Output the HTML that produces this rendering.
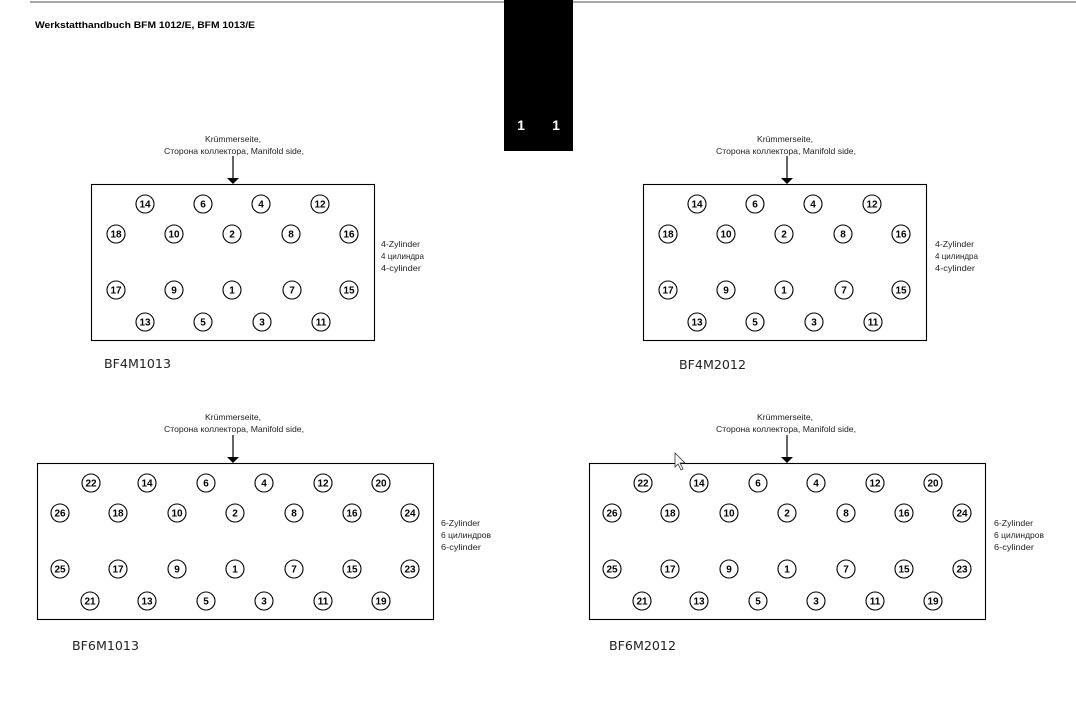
<!DOCTYPE html>
<html><head><meta charset="utf-8"><style>
html,body{margin:0;padding:0;background:#fff;width:1076px;height:711px;overflow:hidden}
svg{display:block}
.c circle{fill:#fff;stroke:#000;stroke-width:1.1}
.c text{font-family:"Liberation Sans Narrow","Liberation Sans",sans-serif;font-weight:bold;font-size:10px;text-anchor:middle}
.s{font-family:"Liberation Sans Narrow","Liberation Sans",sans-serif;font-size:8.5px;fill:#222}
.m{font-family:"DejaVu Sans","Liberation Sans",sans-serif;font-size:12.5px;fill:#222}
</style></head><body>
<svg width="1076" height="711" viewBox="0 0 1076 711" xmlns="http://www.w3.org/2000/svg">
<defs>
<g id="arr"><line x1="0" y1="-28" x2="0" y2="-5" stroke="#000" stroke-width="1.2"/><polygon points="-6,-6 6,-6 0,0" fill="#000"/></g>
</defs>
<line x1="30" y1="2" x2="1076" y2="2" stroke="#888" stroke-width="1.5"/>
<text x="35" y="28" font-family="Liberation Sans Narrow,Liberation Sans,sans-serif" font-weight="bold" font-size="9.5" textLength="220" lengthAdjust="spacingAndGlyphs">Werkstatthandbuch BFM 1012/E, BFM 1013/E</text>
<rect x="504" y="0" width="69" height="151" fill="#000"/>
<text x="521" y="130" fill="#fff" font-family="Liberation Sans,sans-serif" font-weight="bold" font-size="14" text-anchor="middle">1</text>
<text x="556" y="130" fill="#fff" font-family="Liberation Sans,sans-serif" font-weight="bold" font-size="14" text-anchor="middle">1</text>

<!-- Diagram 1 -->
<text class="s" x="233" y="142" text-anchor="middle" textLength="56" lengthAdjust="spacingAndGlyphs">Krümmerseite,</text>
<text class="s" x="234" y="154" text-anchor="middle" textLength="140" lengthAdjust="spacingAndGlyphs">Сторона коллектора, Manifold side,</text>
<use href="#arr" x="233" y="184"/>
<rect x="91.5" y="184.5" width="283" height="156" fill="none" stroke="#000" stroke-width="1.1"/>
<g class="c">
<g transform="translate(145,204)"><circle r="9"/><text y="3.5">14</text></g>
<g transform="translate(203,204)"><circle r="9"/><text y="3.5">6</text></g>
<g transform="translate(261,204)"><circle r="9"/><text y="3.5">4</text></g>
<g transform="translate(320,204)"><circle r="9"/><text y="3.5">12</text></g>
<g transform="translate(116,234)"><circle r="9"/><text y="3.5">18</text></g>
<g transform="translate(174,234)"><circle r="9"/><text y="3.5">10</text></g>
<g transform="translate(232,234)"><circle r="9"/><text y="3.5">2</text></g>
<g transform="translate(291,234)"><circle r="9"/><text y="3.5">8</text></g>
<g transform="translate(349,234)"><circle r="9"/><text y="3.5">16</text></g>
<g transform="translate(116,290)"><circle r="9"/><text y="3.5">17</text></g>
<g transform="translate(174,290)"><circle r="9"/><text y="3.5">9</text></g>
<g transform="translate(232,290)"><circle r="9"/><text y="3.5">1</text></g>
<g transform="translate(292,290)"><circle r="9"/><text y="3.5">7</text></g>
<g transform="translate(349,290)"><circle r="9"/><text y="3.5">15</text></g>
<g transform="translate(145,322)"><circle r="9"/><text y="3.5">13</text></g>
<g transform="translate(203,322)"><circle r="9"/><text y="3.5">5</text></g>
<g transform="translate(262,322)"><circle r="9"/><text y="3.5">3</text></g>
<g transform="translate(321,322)"><circle r="9"/><text y="3.5">11</text></g>
</g>
<text class="s" x="381" y="247" textLength="39" lengthAdjust="spacingAndGlyphs">4-Zylinder</text>
<text class="s" x="381" y="259" textLength="43" lengthAdjust="spacingAndGlyphs">4 цилиндра</text>
<text class="s" x="381" y="271" textLength="40" lengthAdjust="spacingAndGlyphs">4-cylinder</text>
<text class="m" x="104" y="368" textLength="67" lengthAdjust="spacingAndGlyphs">BF4M1013</text>

<!-- Diagram 2 -->
<g transform="translate(552,0)">
<text class="s" x="233" y="142" text-anchor="middle" textLength="56" lengthAdjust="spacingAndGlyphs">Krümmerseite,</text>
<text class="s" x="234" y="154" text-anchor="middle" textLength="140" lengthAdjust="spacingAndGlyphs">Сторона коллектора, Manifold side,</text>
<use href="#arr" x="235" y="184"/>
<rect x="91.5" y="184.5" width="283" height="156" fill="none" stroke="#000" stroke-width="1.1"/>
<g class="c">
<g transform="translate(145,204)"><circle r="9"/><text y="3.5">14</text></g>
<g transform="translate(203,204)"><circle r="9"/><text y="3.5">6</text></g>
<g transform="translate(261,204)"><circle r="9"/><text y="3.5">4</text></g>
<g transform="translate(320,204)"><circle r="9"/><text y="3.5">12</text></g>
<g transform="translate(116,234)"><circle r="9"/><text y="3.5">18</text></g>
<g transform="translate(174,234)"><circle r="9"/><text y="3.5">10</text></g>
<g transform="translate(232,234)"><circle r="9"/><text y="3.5">2</text></g>
<g transform="translate(291,234)"><circle r="9"/><text y="3.5">8</text></g>
<g transform="translate(349,234)"><circle r="9"/><text y="3.5">16</text></g>
<g transform="translate(116,290)"><circle r="9"/><text y="3.5">17</text></g>
<g transform="translate(174,290)"><circle r="9"/><text y="3.5">9</text></g>
<g transform="translate(232,290)"><circle r="9"/><text y="3.5">1</text></g>
<g transform="translate(292,290)"><circle r="9"/><text y="3.5">7</text></g>
<g transform="translate(349,290)"><circle r="9"/><text y="3.5">15</text></g>
<g transform="translate(145,322)"><circle r="9"/><text y="3.5">13</text></g>
<g transform="translate(203,322)"><circle r="9"/><text y="3.5">5</text></g>
<g transform="translate(262,322)"><circle r="9"/><text y="3.5">3</text></g>
<g transform="translate(321,322)"><circle r="9"/><text y="3.5">11</text></g>
</g>
<text class="s" x="383" y="247" textLength="39" lengthAdjust="spacingAndGlyphs">4-Zylinder</text>
<text class="s" x="383" y="259" textLength="43" lengthAdjust="spacingAndGlyphs">4 цилиндра</text>
<text class="s" x="383" y="271" textLength="40" lengthAdjust="spacingAndGlyphs">4-cylinder</text>
<text class="m" x="127" y="369" textLength="67" lengthAdjust="spacingAndGlyphs">BF4M2012</text>
</g>

<!-- Diagram 3 -->
<text class="s" x="233" y="420" text-anchor="middle" textLength="56" lengthAdjust="spacingAndGlyphs">Krümmerseite,</text>
<text class="s" x="234" y="432" text-anchor="middle" textLength="140" lengthAdjust="spacingAndGlyphs">Сторона коллектора, Manifold side,</text>
<use href="#arr" x="233" y="463"/>
<rect x="37.5" y="463.5" width="396" height="156" fill="none" stroke="#000" stroke-width="1.1"/>
<g class="c">
<g transform="translate(91,483)"><circle r="9"/><text y="3.5">22</text></g>
<g transform="translate(147,483)"><circle r="9"/><text y="3.5">14</text></g>
<g transform="translate(206,483)"><circle r="9"/><text y="3.5">6</text></g>
<g transform="translate(264,483)"><circle r="9"/><text y="3.5">4</text></g>
<g transform="translate(323,483)"><circle r="9"/><text y="3.5">12</text></g>
<g transform="translate(381,483)"><circle r="9"/><text y="3.5">20</text></g>
<g transform="translate(60,513)"><circle r="9"/><text y="3.5">26</text></g>
<g transform="translate(118,513)"><circle r="9"/><text y="3.5">18</text></g>
<g transform="translate(177,513)"><circle r="9"/><text y="3.5">10</text></g>
<g transform="translate(235,513)"><circle r="9"/><text y="3.5">2</text></g>
<g transform="translate(294,513)"><circle r="9"/><text y="3.5">8</text></g>
<g transform="translate(352,513)"><circle r="9"/><text y="3.5">16</text></g>
<g transform="translate(410,513)"><circle r="9"/><text y="3.5">24</text></g>
<g transform="translate(60,569)"><circle r="9"/><text y="3.5">25</text></g>
<g transform="translate(118,569)"><circle r="9"/><text y="3.5">17</text></g>
<g transform="translate(177,569)"><circle r="9"/><text y="3.5">9</text></g>
<g transform="translate(235,569)"><circle r="9"/><text y="3.5">1</text></g>
<g transform="translate(294,569)"><circle r="9"/><text y="3.5">7</text></g>
<g transform="translate(352,569)"><circle r="9"/><text y="3.5">15</text></g>
<g transform="translate(410,569)"><circle r="9"/><text y="3.5">23</text></g>
<g transform="translate(90,601)"><circle r="9"/><text y="3.5">21</text></g>
<g transform="translate(147,601)"><circle r="9"/><text y="3.5">13</text></g>
<g transform="translate(206,601)"><circle r="9"/><text y="3.5">5</text></g>
<g transform="translate(264,601)"><circle r="9"/><text y="3.5">3</text></g>
<g transform="translate(323,601)"><circle r="9"/><text y="3.5">11</text></g>
<g transform="translate(381,601)"><circle r="9"/><text y="3.5">19</text></g>
</g>
<text class="s" x="441" y="526" textLength="39" lengthAdjust="spacingAndGlyphs">6-Zylinder</text>
<text class="s" x="441" y="538" textLength="50" lengthAdjust="spacingAndGlyphs">6 цилиндров</text>
<text class="s" x="441" y="550" textLength="40" lengthAdjust="spacingAndGlyphs">6-cylinder</text>
<text class="m" x="72" y="650" textLength="67" lengthAdjust="spacingAndGlyphs">BF6M1013</text>

<!-- Diagram 4 -->
<g transform="translate(552,0)">
<text class="s" x="233" y="420" text-anchor="middle" textLength="56" lengthAdjust="spacingAndGlyphs">Krümmerseite,</text>
<text class="s" x="234" y="432" text-anchor="middle" textLength="140" lengthAdjust="spacingAndGlyphs">Сторона коллектора, Manifold side,</text>
<use href="#arr" x="235" y="463"/>
<rect x="37.5" y="463.5" width="396" height="156" fill="none" stroke="#000" stroke-width="1.1"/>
<g class="c">
<g transform="translate(91,483)"><circle r="9"/><text y="3.5">22</text></g>
<g transform="translate(147,483)"><circle r="9"/><text y="3.5">14</text></g>
<g transform="translate(206,483)"><circle r="9"/><text y="3.5">6</text></g>
<g transform="translate(264,483)"><circle r="9"/><text y="3.5">4</text></g>
<g transform="translate(323,483)"><circle r="9"/><text y="3.5">12</text></g>
<g transform="translate(381,483)"><circle r="9"/><text y="3.5">20</text></g>
<g transform="translate(60,513)"><circle r="9"/><text y="3.5">26</text></g>
<g transform="translate(118,513)"><circle r="9"/><text y="3.5">18</text></g>
<g transform="translate(177,513)"><circle r="9"/><text y="3.5">10</text></g>
<g transform="translate(235,513)"><circle r="9"/><text y="3.5">2</text></g>
<g transform="translate(294,513)"><circle r="9"/><text y="3.5">8</text></g>
<g transform="translate(352,513)"><circle r="9"/><text y="3.5">16</text></g>
<g transform="translate(410,513)"><circle r="9"/><text y="3.5">24</text></g>
<g transform="translate(60,569)"><circle r="9"/><text y="3.5">25</text></g>
<g transform="translate(118,569)"><circle r="9"/><text y="3.5">17</text></g>
<g transform="translate(177,569)"><circle r="9"/><text y="3.5">9</text></g>
<g transform="translate(235,569)"><circle r="9"/><text y="3.5">1</text></g>
<g transform="translate(294,569)"><circle r="9"/><text y="3.5">7</text></g>
<g transform="translate(352,569)"><circle r="9"/><text y="3.5">15</text></g>
<g transform="translate(410,569)"><circle r="9"/><text y="3.5">23</text></g>
<g transform="translate(90,601)"><circle r="9"/><text y="3.5">21</text></g>
<g transform="translate(147,601)"><circle r="9"/><text y="3.5">13</text></g>
<g transform="translate(206,601)"><circle r="9"/><text y="3.5">5</text></g>
<g transform="translate(264,601)"><circle r="9"/><text y="3.5">3</text></g>
<g transform="translate(323,601)"><circle r="9"/><text y="3.5">11</text></g>
<g transform="translate(381,601)"><circle r="9"/><text y="3.5">19</text></g>
</g>
<text class="s" x="442" y="526" textLength="39" lengthAdjust="spacingAndGlyphs">6-Zylinder</text>
<text class="s" x="442" y="538" textLength="50" lengthAdjust="spacingAndGlyphs">6 цилиндров</text>
<text class="s" x="442" y="550" textLength="40" lengthAdjust="spacingAndGlyphs">6-cylinder</text>
<text class="m" x="57" y="650" textLength="67" lengthAdjust="spacingAndGlyphs">BF6M2012</text>
</g>

<!-- cursor -->
<polygon points="675,453 675,467 678,464 681,470 683,469 680,463 685,463" fill="#fff" stroke="#333" stroke-width="0.8"/>
</svg>
</body></html>
